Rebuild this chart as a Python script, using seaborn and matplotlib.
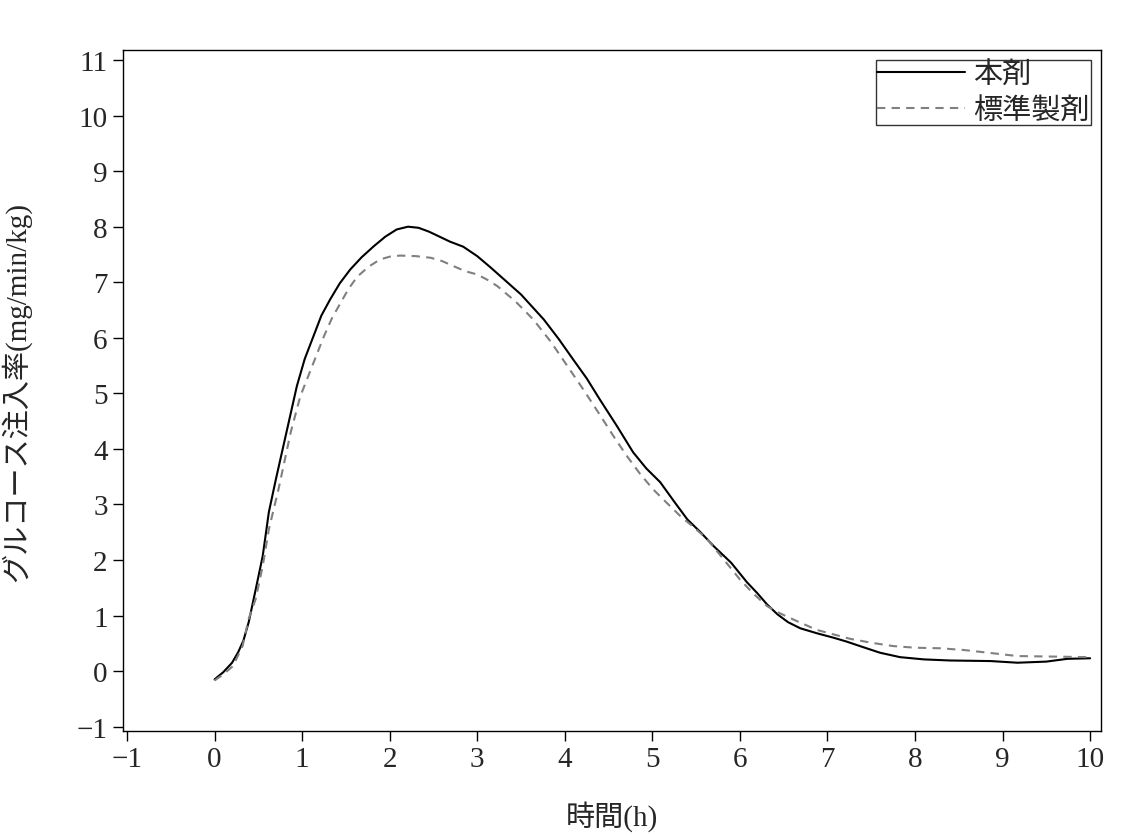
import seaborn as sns
import matplotlib.pyplot as plt
import pandas as pd

# values
hon_t = [0, 0.1, 0.2, 0.27, 0.33, 0.39, 0.47, 0.55, 0.62, 0.7, 0.79, 0.86, 0.94, 1.03,
         1.13, 1.22, 1.32, 1.43, 1.55, 1.68, 1.82, 1.95, 2.08, 2.21, 2.33, 2.45, 2.57,
         2.69, 2.84, 3.0, 3.15, 3.3, 3.5, 3.76, 3.93, 4.1, 4.25, 4.4, 4.6, 4.78, 4.93,
         5.09, 5.25, 5.4, 5.55, 5.7, 5.9, 6.08, 6.2, 6.31, 6.43, 6.55, 6.69, 6.88, 7.07,
         7.22, 7.37, 7.6, 7.83, 8.1, 8.4, 8.86, 9.17, 9.5, 9.74, 10]
hon_y = [-0.15, -0.02, 0.15, 0.34, 0.55, 0.88, 1.47, 2.07, 2.86, 3.45, 4.08, 4.57, 5.13,
         5.62, 6.03, 6.4, 6.69, 6.98, 7.23, 7.45, 7.65, 7.82, 7.95, 8.0, 7.98, 7.91, 7.82,
         7.73, 7.64, 7.47, 7.27, 7.06, 6.78, 6.33, 5.98, 5.6, 5.27, 4.89, 4.4, 3.94, 3.65,
         3.4, 3.05, 2.73, 2.5, 2.25, 1.95, 1.6, 1.4, 1.2, 1.02, 0.88, 0.77, 0.68, 0.6,
         0.53, 0.45, 0.33, 0.25, 0.21, 0.19, 0.18, 0.15, 0.17, 0.22, 0.23]

std_t = [0, 0.1, 0.21, 0.32, 0.39, 0.47, 0.55, 0.62, 0.73, 0.87, 0.98, 1.1, 1.25, 1.34,
         1.44, 1.53, 1.63, 1.76, 1.89, 2.0, 2.12, 2.3, 2.47, 2.6, 2.73, 2.86, 3.0, 3.12,
         3.23, 3.44, 3.64, 3.84, 4.03, 4.22, 4.41, 4.56, 4.71, 4.86, 5.01, 5.17, 5.32,
         5.48, 5.63, 5.82, 6.0, 6.15, 6.31, 6.43, 6.65, 6.88, 7.07, 7.26, 7.5, 7.75, 8.0,
         8.29, 8.55, 8.78, 9.17, 9.6, 10]
std_y = [-0.17, -0.06, 0.09, 0.45, 0.94, 1.3, 1.89, 2.55, 3.27, 4.3, 4.95, 5.43, 6.03,
         6.35, 6.63, 6.88, 7.1, 7.28, 7.41, 7.46, 7.48, 7.47, 7.44, 7.38, 7.29, 7.2, 7.14,
         7.04, 6.93, 6.65, 6.33, 5.93, 5.49, 5.05, 4.59, 4.22, 3.87, 3.55, 3.27, 3.02,
         2.79, 2.58, 2.37, 2.0, 1.65, 1.4, 1.17, 1.06, 0.9, 0.74, 0.66, 0.58, 0.51, 0.45,
         0.42, 0.41, 0.38, 0.34, 0.27, 0.26, 0.25]

labels = ['本剤', '標準製剤']

sns.set_theme(style='ticks')
plt.rcParams['font.family'] = ['Liberation Serif', 'Noto Sans CJK JP']
plt.rcParams['axes.unicode_minus'] = True

df1 = pd.DataFrame({'t': hon_t, 'y': hon_y})
df2 = pd.DataFrame({'t': std_t, 'y': std_y})

fig = plt.figure(figsize=(11.21, 8.37), dpi=100)
ax = fig.add_axes([0.1097, 0.1254, 0.8725, 0.8136])

sns.lineplot(data=df1, x='t', y='y', ax=ax, color='black', lw=1.5, label=labels[0])
sns.lineplot(data=df2, x='t', y='y', ax=ax, color='#808080', lw=1.5,
             linestyle=(0, (4, 3)), label=labels[1])

ax.set_xlim(-1.046, 10.125)
ax.set_ylim(-1.08, 11.18)
ax.set_xticks(range(-1, 11))
ax.set_yticks(range(-1, 12))
ax.tick_params(labelsize=21, length=7, width=1, direction='out', color='black', pad=4)
for s in ax.spines.values():
    s.set_visible(True)
    s.set_color('black')
    s.set_linewidth(1)

ax.set_xlabel('時間(h)', fontsize=21, labelpad=20)
ax.set_ylabel('グルコース注入率(mg/min/kg)', fontsize=21, labelpad=33)

leg = ax.legend(loc='upper right', fontsize=21, frameon=True, fancybox=False,
                edgecolor='black', handlelength=3.0, handletextpad=0.3,
                borderpad=0.05, labelspacing=0.3, borderaxespad=0.33)
leg.get_frame().set_linewidth(1)

fig.savefig('out.png', dpi=100)
